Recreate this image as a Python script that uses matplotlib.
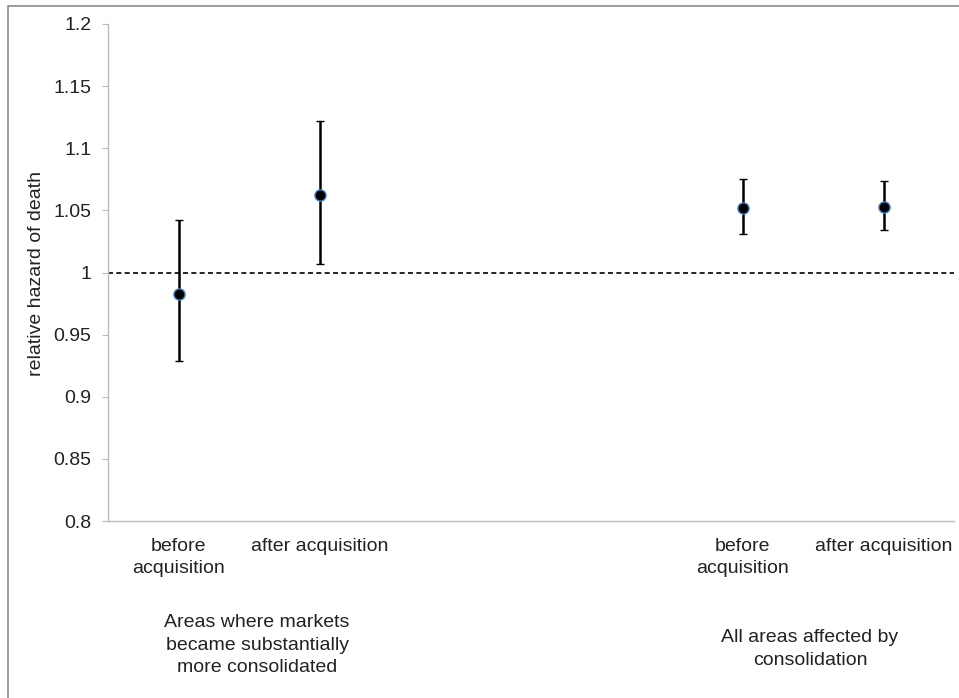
import matplotlib
matplotlib.use("Agg")
import matplotlib.pyplot as plt
from matplotlib.patches import Rectangle

plt.rcParams['font.family'] = ['Liberation Sans', 'DejaVu Sans']

# category slots (two empty slots between the groups)
slots = [0, 1, 4, 5]
tick_labels = ["before\nacquisition", "after acquisition", "before\nacquisition", "after acquisition"]
group_labels = ["Areas where markets\nbecame substantially\nmore consolidated",
                "All areas affected by\nconsolidation"]

# hazard ratios and confidence limits
hazard = [0.983, 1.062, 1.052, 1.053]
lower = [0.929, 1.007, 1.031, 1.034]
upper = [1.042, 1.122, 1.075, 1.074]

err_low = [h - l for h, l in zip(hazard, lower)]
err_high = [u - h for u, h in zip(upper, hazard)]

fig = plt.figure(figsize=(9.59, 6.98), dpi=100)
ax = fig.add_axes([108 / 959, 1 - 521 / 698, 846 / 959, 497 / 698])

# reference line at 1
ax.axhline(1.0, color='black', linestyle=(0, (3, 2)), linewidth=1.2, zorder=1)

ax.errorbar(slots, hazard, yerr=[err_low, err_high], fmt='o', color='black',
            ecolor='black', elinewidth=1.8, capsize=3, capthick=1.8,
            markersize=8, markerfacecolor='black', markeredgecolor='#3f7fc8',
            markeredgewidth=1.0, zorder=3)

ax.set_xlim(-0.5, 5.5)
ax.set_ylim(0.8, 1.2)
ax.set_yticks([0.8, 0.85, 0.9, 0.95, 1.0, 1.05, 1.1, 1.15, 1.2])
ax.set_yticklabels(["0.8", "0.85", "0.9", "0.95", "1", "1.05", "1.1", "1.15", "1.2"])
ax.set_xticks(slots)
ax.set_xticklabels(tick_labels, linespacing=1.4)
ax.tick_params(axis='x', length=0, pad=12, labelsize=14, colors='#222222')
ax.tick_params(axis='y', length=4, width=0.8, color='#bbbbbb', pad=8,
               labelsize=14, labelcolor='#222222')

for side in ['top', 'right']:
    ax.spines[side].set_visible(False)
for side in ['left', 'bottom']:
    ax.spines[side].set_color('#bbbbbb')
    ax.spines[side].set_linewidth(1.0)

fig.text(37 / 959, 1 - 273 / 698, "relative hazard of death", rotation=90,
         ha='center', va='center', fontsize=14, color='#222222')

fig.text(257 / 959, 1 - 645 / 698, group_labels[0], ha='center', va='center',
         fontsize=14, color='#222222', multialignment='center', linespacing=1.4)
fig.text(810 / 959, 1 - 649 / 698, group_labels[1], ha='center', va='center',
         fontsize=14, color='#222222', multialignment='center', linespacing=1.4)

# outer frame of the chart area
fig.patches.append(Rectangle((8 / 959, -0.05), 1.0, 1 - 6 / 698 + 0.05,
                             transform=fig.transFigure, fill=False,
                             edgecolor='#8c8c8c', linewidth=1.2))

fig.savefig("out.png", dpi=100)
